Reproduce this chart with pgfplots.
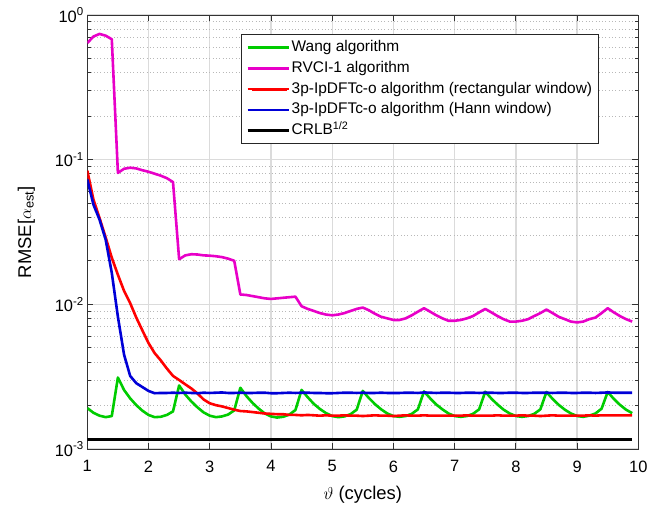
\documentclass[border=0pt]{standalone}
\usepackage{fontspec}
\setmainfont{Liberation Sans}
\usepackage{pgfplots}
\usepackage{pgfplotstable}
\pgfplotsset{compat=1.18}

\definecolor{wangc}{RGB}{0,204,0}
\definecolor{rvcic}{RGB}{232,0,200}
\definecolor{rectc}{RGB}{255,0,0}
\definecolor{hannc}{RGB}{0,0,215}

% columns: theta, Wang, RVCI-1, 3p-IpDFTc-o (rect), 3p-IpDFTc-o (Hann)
\pgfplotstableread{
x   wang     rvci    rect     hann
1.0 0.00192  0.640   0.0840   0.0730
1.1 0.00178  0.710   0.0530   0.0490
1.2 0.00170  0.740   0.0395   0.0385
1.3 0.00166  0.720   0.0290   0.0280
1.4 0.00169  0.680   0.0210   0.0165
1.5 0.00312  0.0810  0.0160   0.0082
1.6 0.00256  0.0865  0.0124   0.0045
1.7 0.00224  0.0880  0.0102   0.0032
1.8 0.00201  0.0870  0.0081   0.00285
1.9 0.00184  0.0845  0.0066   0.00268
2.0 0.00172  0.0825  0.0054   0.00252
2.1 0.00166  0.0800  0.0046   0.00243
2.2 0.00167  0.0775  0.0041   0.00244
2.3 0.00172  0.0745  0.0036   0.00244
2.4 0.00182  0.0700  0.0032   0.00245
2.5 0.00275  0.0205  0.00300  0.00244
2.6 0.00238  0.0218  0.00280  0.00245
2.7 0.00213  0.0222  0.00262  0.00244
2.8 0.00194  0.0221  0.00242  0.00243
2.9 0.00179  0.0218  0.00220  0.00245
3.0 0.00170  0.0217  0.00207  0.00244
3.1 0.00166  0.0215  0.00201  0.00245
3.2 0.00168  0.0212  0.00197  0.00246
3.3 0.00173  0.0207  0.00192  0.00244
3.4 0.00185  0.0200  0.00187  0.00244
3.5 0.00265  0.0117  0.00183  0.00245
3.6 0.00232  0.0116  0.00182  0.00244
3.7 0.00208  0.0114  0.00180  0.00244
3.8 0.00190  0.0112  0.00178  0.00245
3.9 0.00176  0.0110  0.00176  0.00245
4.0 0.00168  0.0109  0.00175  0.00243
4.1 0.00165  0.0110  0.00174  0.00243
4.2 0.00167  0.0111  0.00174  0.00244
4.3 0.00173  0.0112  0.00172  0.00245
4.4 0.00186  0.0113  0.00172  0.00244
4.5 0.00256  0.0097  0.00171  0.00245
4.6 0.00228  0.0093  0.00172  0.00245
4.7 0.00205  0.0090  0.00171  0.00244
4.8 0.00189  0.0087  0.00170  0.00244
4.9 0.00177  0.0085  0.00171  0.00243
5.0 0.00169  0.0084  0.00170  0.00243
5.1 0.00166  0.0085  0.00170  0.00244
5.2 0.00168  0.0087  0.00171  0.00245
5.3 0.00174  0.0090  0.00170  0.00245
5.4 0.00187  0.0093  0.00170  0.00244
5.5 0.00252  0.0095  0.00169  0.00245
5.6 0.00225  0.0091  0.00170  0.00244
5.7 0.00204  0.0086  0.00171  0.00244
5.8 0.00188  0.0082  0.00170  0.00245
5.9 0.00176  0.0080  0.00170  0.00244
6.0 0.00169  0.0078  0.00169  0.00244
6.1 0.00167  0.0078  0.00170  0.00244
6.2 0.00169  0.0080  0.00171  0.00245
6.3 0.00175  0.0084  0.00170  0.00245
6.4 0.00188  0.0089  0.00170  0.00244
6.5 0.00250  0.0094  0.00171  0.00246
6.6 0.00224  0.0089  0.00170  0.00245
6.7 0.00203  0.0084  0.00170  0.00244
6.8 0.00188  0.0080  0.00170  0.00245
6.9 0.00176  0.0077  0.00170  0.00245
7.0 0.00169  0.0077  0.00170  0.00244
7.1 0.00167  0.0078  0.00170  0.00244
7.2 0.00169  0.0080  0.00171  0.00245
7.3 0.00175  0.0083  0.00170  0.00245
7.4 0.00188  0.0088  0.00170  0.00244
7.5 0.00249  0.0093  0.00170  0.00245
7.6 0.00223  0.0088  0.00170  0.00245
7.7 0.00203  0.0083  0.00171  0.00244
7.8 0.00187  0.0079  0.00170  0.00244
7.9 0.00176  0.0076  0.00170  0.00245
8.0 0.00169  0.0076  0.00170  0.00245
8.1 0.00167  0.0077  0.00171  0.00244
8.2 0.00169  0.0079  0.00170  0.00244
8.3 0.00175  0.0083  0.00170  0.00245
8.4 0.00188  0.0087  0.00169  0.00245
8.5 0.00248  0.0092  0.00170  0.00245
8.6 0.00222  0.0087  0.00171  0.00244
8.7 0.00202  0.0082  0.00170  0.00245
8.8 0.00187  0.0079  0.00170  0.00245
8.9 0.00176  0.0076  0.00170  0.00244
9.0 0.00169  0.0075  0.00170  0.00244
9.1 0.00167  0.0076  0.00170  0.00245
9.2 0.00170  0.0079  0.00171  0.00245
9.3 0.00176  0.0081  0.00170  0.00244
9.4 0.00190  0.0087  0.00171  0.00245
9.5 0.00248  0.0094  0.00171  0.00246
9.6 0.00222  0.0088  0.00171  0.00245
9.7 0.00202  0.0083  0.00171  0.00245
9.8 0.00187  0.0079  0.00171  0.00245
9.9 0.00177  0.0076  0.00171  0.00245
}\rmsedata

\begin{document}
\begin{tikzpicture}
\begin{axis}[
  scale only axis,
  width=551bp, height=434bp,
  xmin=1, xmax=10,
  ymode=log, ymin=1e-3, ymax=1,
  xtick={1,2,...,10},
  ytick={1e-3,1e-2,1e-1,1},
  yticklabels={10\textsuperscript{-3},10\textsuperscript{-2},10\textsuperscript{-1},10\textsuperscript{0}},
  minor ytick={2e-3,3e-3,4e-3,5e-3,6e-3,7e-3,8e-3,9e-3,
               2e-2,3e-2,4e-2,5e-2,6e-2,7e-2,8e-2,9e-2,
               2e-1,3e-1,4e-1,5e-1,6e-1,7e-1,8e-1,9e-1},
  /pgf/number format/assume math mode=true,
  tick pos=both,
  tick align=inside,
  major tick length=6bp,
  minor tick length=3.5bp,
  tick style={black!80, line width=0.8bp},
  axis line style={black!80, line width=1bp},
  grid=both,
  major grid style={black!14, line width=1.3bp},
  minor grid style={black!28, line width=0.8bp, dash pattern=on 0.9bp off 2.4bp},
  tick label style={font=\fontsize{16.5}{19}\selectfont},
  xticklabel style={yshift=-8bp},
  label style={font=\fontsize{18.5}{22}\selectfont},
  xlabel={$\vartheta$ (cycles)},
  ylabel={RMSE[$\alpha$\textsubscript{est}]},
  xlabel style={at={(axis description cs:0.5,0)}, anchor=center, yshift=-46bp},
  ylabel style={at={(axis description cs:0,0.5)}, anchor=center, rotate=0, yshift=61bp},
  legend cell align=left,
  legend style={
    at={(0.9287,0.956)}, anchor=north east,
    draw=black!85, line width=0.8bp, fill=white,
    font=\fontsize{15.5}{18}\selectfont,
    inner xsep=5bp, inner ysep=4bp,
    row sep=2.8bp,
    nodes={inner sep=1.5bp, text height=11.5bp, text depth=3.5bp},
  },
  legend image code/.code={
    \path (0bp,0bp) -- (41bp,0bp);
    \draw[#1, line width=2.8bp] (4bp,0bp) -- (39bp,0bp);
  },
  every axis plot/.append style={line width=2.6bp, line join=round},
]
\addplot[wangc] table[x=x, y=wang] {\rmsedata};
\addlegendentry{Wang algorithm}
\addplot[rvcic] table[x=x, y=rvci] {\rmsedata};
\addlegendentry{RVCI-1 algorithm}
\addplot[rectc] table[x=x, y=rect] {\rmsedata};
\addlegendentry{3p-IpDFTc-o algorithm (rectangular window)}
\addplot[hannc] table[x=x, y=hann] {\rmsedata};
\addlegendentry{3p-IpDFTc-o algorithm (Hann window)}
\addplot[black, line width=3bp] coordinates {(1,0.00117) (9.9,0.00117)};
\addlegendentry{CRLB\textsuperscript{1/2}}
\coordinate (sw) at (rel axis cs:0,0);
\coordinate (ne) at (rel axis cs:1,1);
\end{axis}
\pgfresetboundingbox
\path ([xshift=-87.3bp,yshift=-59bp]sw) rectangle ([xshift=25.7bp,yshift=15bp]ne);
\end{tikzpicture}
\end{document}
